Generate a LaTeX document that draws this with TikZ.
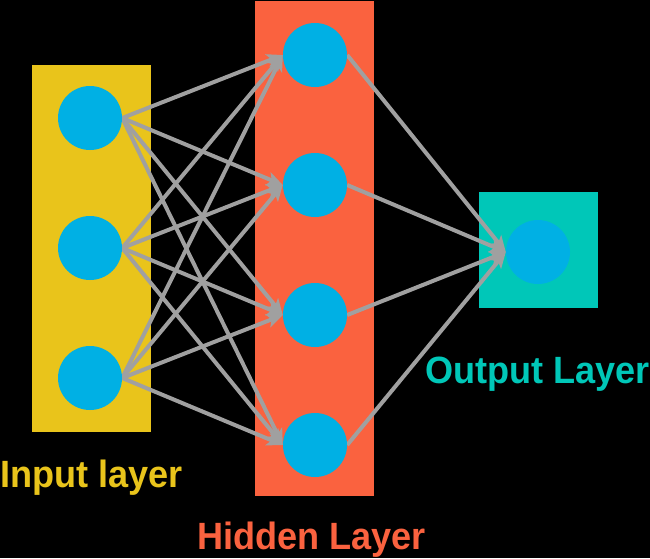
\documentclass[tikz,border=0pt]{standalone}
\usepackage{fontspec}
\setmainfont{Liberation Sans}
\usetikzlibrary{arrows.meta}
\definecolor{inyellow}{RGB}{233,196,27}
\definecolor{hidorange}{RGB}{250,98,63}
\definecolor{outteal}{RGB}{0,199,184}
\definecolor{neuronblue}{RGB}{0,176,228}
\definecolor{edgegray}{RGB}{160,160,160}
\pgfdeclarelayer{boxes}
\pgfdeclarelayer{edges}
\pgfsetlayers{boxes,edges,main}
\tikzset{
  layerbox/.style={rectangle, draw=none, inner sep=0pt},
  neuron/.style={circle, fill=neuronblue, draw=none, inner sep=0pt, minimum size=64pt},
  edge/.style={draw=edgegray, line width=4pt, -{Stealth[length=16pt,width=14pt,inset=4pt]}},
  layerlabel/.style={anchor=base west, inner sep=0pt, font=\bfseries\fontsize{38pt}{40pt}\selectfont}
}
\begin{document}
\begin{tikzpicture}[x=1pt,y=-1pt]
\begin{pgfonlayer}{boxes}
\fill[black] (0,0) rectangle (650,558);
\node[layerbox, fill=inyellow, minimum width=119pt, minimum height=367pt] (inbox) at (91.5,248.5) {};
\node[layerbox, fill=hidorange, minimum width=119pt, minimum height=495pt] (hidbox) at (314.5,248.5) {};
\node[layerbox, fill=outteal, minimum width=119pt, minimum height=116pt] (outbox) at (538.5,250) {};
\end{pgfonlayer}
\useasboundingbox (0,0) rectangle (650,558);
% neurons
\node[neuron] (i1) at (90,118) {};
\node[neuron] (i2) at (90,248) {};
\node[neuron] (i3) at (90,378) {};
\node[neuron] (h1) at (315,55) {};
\node[neuron] (h2) at (315,185) {};
\node[neuron] (h3) at (315,315) {};
\node[neuron] (h4) at (315,445) {};
\node[neuron] (o1) at (538,252) {};
% edges
\begin{pgfonlayer}{edges}
\foreach \i in {1,2,3}{
  \foreach \j in {1,2,3,4}{
    \draw[edge] (i\i.east) -- (h\j.west);
  }
}
\foreach \j in {1,2,3,4}{
  \draw[edge] (h\j.east) -- (o1.west);
}
\end{pgfonlayer}
% labels
\node[layerlabel, text=inyellow] (inlabel) at (0,487) {\scalebox{0.95}[1]{Input layer}};
\node[layerlabel, text=hidorange] (hidlabel) at (197,549) {\scalebox{0.95}[1]{Hidden Layer}};
\node[layerlabel, text=outteal] (outlabel) at (425,383) {\scalebox{0.95}[1]{Output Layer}};
\end{tikzpicture}
\end{document}
